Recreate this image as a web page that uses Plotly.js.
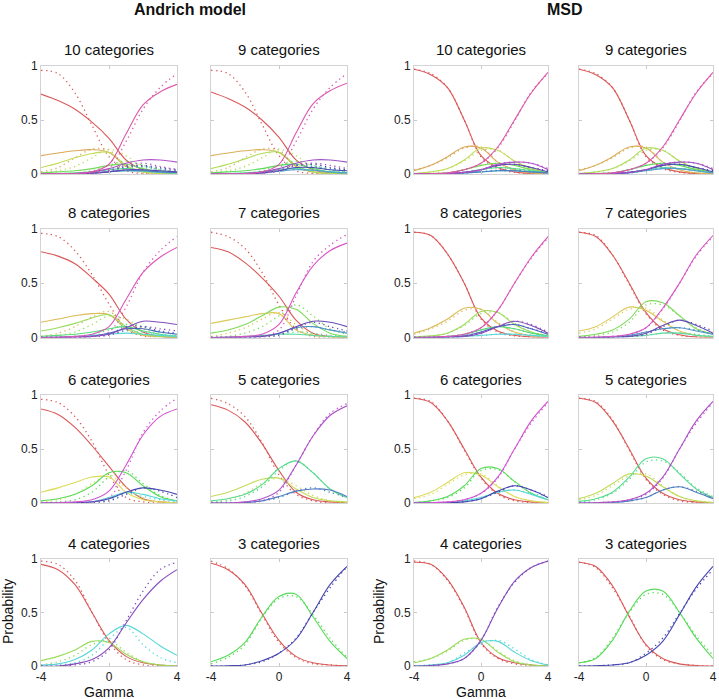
<!DOCTYPE html>
<html>
<head>
<meta charset="utf-8">
<script src="https://cdn.plot.ly/plotly-3.0.1.min.js"></script>
<style>html,body{margin:0;padding:0;background:#fff;}#chart{width:719px;height:699px;}</style>
</head>
<body>
<div id="chart"></div>
<script>
// Gamma grid on which curve values were read
const xs = [-4,-3,-2,-1,0,1,2,3,4];

// ---- Andrich model: fitted (solid) and observed (dotted) category probabilities ----
const A10_fit = [
 [.74,.68,.6,.48,.33,.13,.04,.01,.005],
 [.17,.195,.215,.225,.2,.07,.02,.005,0],
 [.06,.1,.15,.19,.2,.08,.02,.005,0],
 [.01,.02,.03,.05,.08,.09,.05,.02,.01],
 [0,.005,.01,.02,.04,.05,.035,.02,.01],
 [0,0,.005,.01,.025,.03,.025,.015,.01],
 [0,0,.003,.008,.02,.03,.03,.02,.015],
 [0,0,.003,.008,.02,.04,.04,.03,.02],
 [0,0,.005,.02,.05,.1,.13,.13,.11],
 [0,.002,.005,.02,.09,.37,.64,.76,.83]];
const A10_obs = [
 [.96,.93,.75,.45,.16,.03,.005,0,0],
 [.02,.06,.15,.23,.22,.07,.01,0,0],
 [.01,.03,.07,.15,.23,.17,.06,.01,0],
 [0,.005,.01,.03,.08,.12,.08,.04,.02],
 [0,0,.005,.02,.05,.08,.07,.04,.02],
 [0,0,.003,.01,.04,.07,.06,.04,.02],
 [0,0,.003,.01,.03,.06,.07,.05,.03],
 [0,0,.002,.01,.03,.07,.08,.06,.04],
 [0,0,.002,.01,.03,.08,.1,.07,.04],
 [0,0,.002,.005,.05,.3,.6,.8,.93]];
const A9_fit = [
 [.76,.7,.62,.5,.34,.13,.04,.01,.005],
 [.17,.195,.215,.225,.2,.07,.02,.005,0],
 [.05,.09,.14,.19,.2,.08,.02,.005,0],
 [.01,.02,.03,.05,.08,.09,.05,.02,.01],
 [0,.005,.01,.02,.04,.05,.035,.02,.01],
 [0,0,.005,.01,.025,.04,.035,.02,.01],
 [0,0,.003,.01,.03,.06,.06,.04,.03],
 [0,0,.005,.02,.05,.1,.13,.13,.11],
 [0,.002,.005,.02,.09,.38,.65,.77,.84]];
const A9_obs = [
 [.96,.93,.76,.46,.17,.03,.005,0,0],
 [.02,.06,.15,.23,.22,.07,.01,0,0],
 [.01,.03,.07,.15,.23,.17,.06,.01,0],
 [0,.005,.01,.03,.08,.12,.08,.04,.02],
 [0,0,.005,.02,.05,.09,.07,.04,.02],
 [0,0,.003,.01,.04,.08,.07,.05,.03],
 [0,0,.002,.01,.03,.08,.09,.06,.04],
 [0,0,.002,.01,.03,.08,.1,.08,.05],
 [0,0,.002,.005,.05,.3,.6,.8,.93]];
const A8_fit = [
 [.79,.75,.68,.55,.4,.17,.05,.01,0],
 [.14,.17,.2,.22,.21,.08,.02,.01,0],
 [.06,.09,.13,.18,.21,.1,.03,.01,0],
 [.01,.02,.03,.05,.08,.1,.06,.03,.01],
 [0,.005,.01,.02,.03,.04,.03,.02,.01],
 [0,0,.005,.01,.04,.08,.08,.05,.03],
 [0,0,.003,.01,.03,.09,.15,.14,.12],
 [0,.003,.01,.03,.1,.35,.6,.74,.83]];
const A8_obs = [
 [.96,.93,.8,.58,.31,.08,.015,.005,0],
 [.01,.04,.1,.19,.24,.1,.02,.005,0],
 [0,.02,.05,.12,.2,.17,.08,.03,.01],
 [0,.005,.01,.03,.07,.12,.1,.05,.03],
 [0,0,.005,.01,.03,.06,.05,.03,.02],
 [0,0,.003,.01,.03,.1,.1,.06,.04],
 [0,0,.002,.01,.02,.07,.1,.08,.06],
 [0,0,.003,.01,.05,.28,.6,.8,.93]];
const A7_fit = [
 [.83,.79,.69,.55,.38,.16,.04,.01,0],
 [.13,.16,.19,.22,.22,.07,.02,.005,0],
 [.04,.07,.12,.2,.28,.26,.13,.04,.01],
 [0,.005,.01,.02,.03,.03,.02,.01,.005],
 [0,0,.005,.01,.04,.09,.1,.07,.04],
 [0,0,.003,.01,.04,.1,.15,.14,.1],
 [0,.003,.01,.03,.12,.41,.66,.8,.87]];
const A7_obs = [
 [.97,.93,.82,.6,.3,.08,.01,0,0],
 [.01,.04,.09,.17,.23,.12,.03,.005,0],
 [0,.01,.04,.1,.2,.3,.2,.08,.03],
 [0,0,.005,.01,.03,.05,.04,.02,.01],
 [0,0,.003,.01,.03,.08,.1,.07,.05],
 [0,0,.002,.005,.02,.09,.14,.1,.06],
 [0,0,.003,.01,.07,.38,.7,.85,.95]];
const A6_fit = [
 [.87,.82,.7,.53,.34,.15,.04,.01,0],
 [.1,.14,.19,.24,.24,.1,.03,.01,0],
 [.02,.04,.08,.16,.28,.28,.16,.06,.02],
 [0,0,.005,.01,.05,.1,.08,.04,.02],
 [0,0,.003,.01,.04,.1,.14,.12,.08],
 [0,.003,.01,.03,.11,.35,.63,.8,.87]];
const A6_obs = [
 [.96,.93,.8,.57,.26,.05,.01,0,0],
 [.01,.03,.08,.18,.26,.14,.05,.01,0],
 [0,.01,.03,.1,.24,.3,.18,.07,.02],
 [0,0,.003,.01,.03,.09,.06,.03,.01],
 [0,0,.002,.005,.02,.08,.14,.11,.05],
 [0,0,.003,.01,.05,.3,.65,.85,.97]];
const A5_fit = [
 [.91,.86,.75,.55,.3,.1,.03,.01,0],
 [.06,.1,.16,.22,.23,.13,.05,.02,.01],
 [.02,.04,.08,.17,.32,.39,.28,.13,.05],
 [0,0,.005,.02,.06,.11,.13,.12,.06],
 [0,0,.01,.04,.12,.35,.62,.81,.9]];
const A5_obs = [
 [.97,.92,.8,.56,.26,.08,.02,0,0],
 [.01,.03,.09,.18,.23,.16,.07,.02,.005],
 [.01,.02,.06,.15,.3,.39,.28,.13,.05],
 [0,0,.005,.02,.05,.11,.14,.1,.05],
 [0,0,.005,.02,.1,.35,.62,.83,.92]];
const A4_fit = [
 [.95,.9,.76,.5,.24,.09,.03,.01,0],
 [.05,.09,.15,.23,.22,.11,.04,.01,0],
 [.01,.02,.06,.15,.3,.38,.3,.19,.1],
 [0,0,.02,.06,.17,.4,.62,.79,.9]];
const A4_obs = [
 [.98,.95,.8,.5,.22,.06,.01,0,0],
 [.01,.04,.1,.2,.24,.13,.04,.01,0],
 [0,.01,.03,.1,.25,.36,.2,.08,.03],
 [0,0,.01,.04,.15,.42,.7,.9,.97]];
const A3_fit = [
 [.96,.9,.76,.49,.24,.09,.03,.01,.003],
 [.04,.1,.22,.46,.65,.67,.46,.23,.07],
 [0,.003,.01,.05,.12,.25,.5,.76,.93]];
const A3_obs = [
 [.98,.91,.75,.48,.22,.08,.02,.01,0],
 [.02,.08,.2,.45,.63,.65,.48,.26,.08],
 [0,0,.01,.04,.12,.26,.5,.73,.93]];

// ---- MSD model ----
const M10_fit = [
 [.97,.92,.8,.5,.17,.06,.02,.005,0],
 [.03,.08,.16,.25,.24,.11,.04,.01,0],
 [.005,.02,.05,.13,.24,.22,.12,.05,.015],
 [0,.005,.01,.04,.08,.1,.08,.04,.015],
 [0,0,.005,.015,.04,.06,.05,.03,.01],
 [0,0,.003,.01,.02,.03,.03,.02,.01],
 [0,0,.003,.01,.02,.03,.03,.02,.01],
 [0,0,.005,.015,.04,.08,.09,.06,.02],
 [0,0,.005,.015,.04,.09,.11,.1,.04],
 [0,.003,.01,.04,.1,.25,.5,.75,.94]];
const M10_obs = [
 [.97,.93,.8,.5,.16,.05,.015,.005,0],
 [.04,.08,.15,.24,.25,.11,.03,.01,0],
 [.005,.02,.05,.12,.22,.22,.12,.05,.02],
 [0,.005,.01,.04,.08,.1,.08,.04,.02],
 [0,0,.005,.015,.04,.06,.05,.03,.015],
 [0,0,.003,.01,.02,.03,.03,.02,.01],
 [0,0,.003,.01,.02,.035,.035,.02,.01],
 [0,0,.005,.015,.04,.08,.09,.06,.03],
 [0,0,.005,.015,.04,.09,.11,.1,.05],
 [0,.003,.01,.04,.1,.24,.49,.76,.93]];
const M9_fit = [
 [.97,.92,.8,.5,.17,.06,.02,.005,0],
 [.03,.08,.16,.25,.24,.11,.04,.01,0],
 [.005,.02,.05,.13,.24,.22,.12,.05,.015],
 [0,.005,.01,.04,.08,.1,.08,.04,.015],
 [0,0,.005,.015,.04,.06,.05,.03,.01],
 [0,0,.003,.01,.03,.05,.05,.03,.01],
 [0,0,.005,.015,.04,.08,.09,.06,.02],
 [0,0,.005,.015,.04,.09,.11,.1,.04],
 [0,.003,.01,.04,.1,.25,.5,.75,.94]];
const M9_obs = [
 [.97,.93,.8,.5,.16,.05,.015,.005,0],
 [.04,.08,.15,.24,.25,.11,.03,.01,0],
 [.005,.02,.05,.12,.22,.22,.12,.05,.02],
 [0,.005,.01,.04,.08,.1,.08,.04,.02],
 [0,0,.005,.015,.04,.06,.05,.03,.015],
 [0,0,.003,.01,.03,.05,.05,.03,.015],
 [0,0,.005,.015,.04,.08,.09,.06,.03],
 [0,0,.005,.015,.04,.09,.11,.1,.05],
 [0,.003,.01,.04,.1,.24,.49,.76,.93]];
const M8_fit = [
 [.97,.94,.77,.5,.18,.06,.02,.005,0],
 [.04,.09,.17,.27,.26,.13,.05,.015,.005],
 [.005,.015,.04,.12,.24,.23,.12,.05,.015],
 [0,.003,.01,.03,.07,.1,.08,.04,.015],
 [0,0,.003,.01,.02,.03,.03,.02,.01],
 [0,0,.005,.015,.05,.1,.12,.08,.03],
 [0,0,.003,.01,.04,.1,.15,.11,.04],
 [0,.003,.01,.03,.09,.25,.5,.74,.93]];
const M8_obs = [
 [.97,.94,.77,.5,.17,.05,.015,.005,0],
 [.03,.08,.15,.25,.26,.14,.05,.02,.005],
 [.005,.01,.04,.11,.22,.23,.13,.05,.02],
 [0,.003,.01,.03,.07,.1,.08,.04,.02],
 [0,0,.003,.01,.02,.03,.03,.02,.01],
 [0,0,.005,.015,.05,.1,.12,.08,.04],
 [0,0,.003,.01,.04,.1,.15,.12,.05],
 [0,.003,.01,.03,.09,.25,.5,.73,.92]];
const M7_fit = [
 [.97,.93,.76,.5,.23,.08,.025,.005,0],
 [.06,.1,.19,.28,.25,.15,.06,.02,.005],
 [.01,.03,.07,.17,.33,.32,.2,.08,.03],
 [0,0,.005,.01,.02,.04,.04,.02,.01],
 [0,0,.005,.02,.05,.08,.09,.06,.03],
 [0,0,.003,.01,.04,.11,.16,.11,.04],
 [0,.003,.01,.03,.09,.27,.5,.76,.94]];
const M7_obs = [
 [.97,.94,.76,.49,.22,.07,.02,.005,0],
 [.04,.08,.17,.26,.27,.16,.06,.02,.005],
 [.005,.02,.05,.14,.3,.3,.2,.09,.03],
 [0,0,.005,.01,.02,.04,.04,.03,.01],
 [0,0,.005,.02,.05,.08,.09,.07,.03],
 [0,0,.003,.01,.03,.1,.16,.12,.06],
 [0,.003,.01,.03,.09,.26,.5,.75,.93]];
const M6_fit = [
 [.97,.93,.76,.5,.24,.09,.03,.01,0],
 [.05,.1,.19,.28,.26,.15,.06,.02,.005],
 [.005,.02,.06,.16,.32,.32,.2,.09,.03],
 [0,0,.005,.02,.05,.1,.12,.08,.03],
 [0,0,.003,.01,.04,.11,.16,.12,.05],
 [0,.003,.01,.03,.09,.24,.5,.76,.94]];
const M6_obs = [
 [.97,.94,.76,.49,.23,.08,.02,.005,0],
 [.04,.08,.17,.26,.27,.16,.06,.02,.005],
 [.005,.02,.05,.14,.3,.31,.2,.09,.03],
 [0,0,.005,.02,.05,.1,.12,.09,.05],
 [0,0,.003,.01,.04,.1,.16,.12,.06],
 [0,.003,.01,.03,.09,.23,.5,.74,.93]];
const M5_fit = [
 [.97,.93,.76,.5,.23,.09,.03,.01,0],
 [.04,.09,.18,.27,.25,.15,.06,.02,.005],
 [.015,.04,.1,.24,.41,.41,.27,.13,.05],
 [0,0,.005,.02,.05,.12,.15,.1,.04],
 [0,.003,.01,.03,.09,.24,.5,.76,.94]];
const M5_obs = [
 [.97,.94,.77,.49,.22,.08,.02,.005,0],
 [.03,.07,.16,.25,.27,.16,.06,.02,.005],
 [.01,.03,.09,.22,.38,.39,.28,.14,.06],
 [0,0,.005,.02,.05,.12,.15,.11,.05],
 [0,.003,.01,.03,.08,.23,.5,.74,.93]];
const M4_fit = [
 [.97,.95,.81,.55,.22,.08,.03,.01,0],
 [.03,.07,.15,.25,.25,.13,.04,.01,0],
 [0,.01,.03,.1,.22,.23,.13,.05,.01],
 [0,.005,.02,.07,.24,.54,.79,.92,.98]];
const M4_obs = [
 [.98,.95,.8,.54,.21,.07,.02,.005,0],
 [.04,.07,.14,.24,.25,.14,.05,.01,0],
 [0,.01,.03,.12,.2,.24,.16,.06,.01],
 [0,.005,.02,.07,.24,.55,.78,.92,.98]];
const M3_fit = [
 [.97,.93,.75,.46,.2,.07,.02,.005,0],
 [.03,.07,.24,.51,.7,.7,.5,.26,.07],
 [0,.003,.01,.03,.1,.23,.48,.74,.93]];
const M3_obs = [
 [.97,.92,.73,.47,.19,.06,.02,.005,0],
 [.03,.08,.26,.5,.67,.67,.5,.28,.1],
 [0,.003,.01,.03,.12,.26,.49,.72,.9]];

const panelTitles = ['10 categories','9 categories','10 categories','9 categories',
                     '8 categories','7 categories','8 categories','7 categories',
                     '6 categories','5 categories','6 categories','5 categories',
                     '4 categories','3 categories','4 categories','3 categories'];
const panelFit = [A10_fit,A9_fit,M10_fit,M9_fit,A8_fit,A7_fit,M8_fit,M7_fit,
                  A6_fit,A5_fit,M6_fit,M5_fit,A4_fit,A3_fit,M4_fit,M3_fit];
const panelObs = [A10_obs,A9_obs,M10_obs,M9_obs,A8_obs,A7_obs,M8_obs,M7_obs,
                  A6_obs,A5_obs,M6_obs,M5_obs,A4_obs,A3_obs,M4_obs,M3_obs];
const xTicks = [-4,0,4], xTickText = ['-4','0','4'];
const yTicks = [0,0.5,1], yTickText = ['0','0.5','1'];

// ---- layout geometry (pixels) ----
const W = 719, H = 699;
const colPx = [[41,177],[211,347],[414,548],[579,713]];
const rowPx = [[66,174],[229,337.5],[395,503],[559,666]];

// muted hsv-like category palette (red -> ... -> magenta)
function catColor(h) {
  const s = 0.6;
  const d = Math.abs(h - 0.68);
  const v = 0.86 - 0.18 * Math.max(0, 1 - d / 0.2);
  const i = Math.floor(h*6), f = h*6 - i;
  const p = v*(1-s), q = v*(1-f*s), t = v*(1-(1-f)*s);
  let r,g,b;
  switch (i % 6) {
    case 0: r=v;g=t;b=p;break; case 1: r=q;g=v;b=p;break;
    case 2: r=p;g=v;b=t;break; case 3: r=p;g=q;b=v;break;
    case 4: r=t;g=p;b=v;break; default: r=v;g=p;b=q;
  }
  return 'rgb(' + Math.round(r*255) + ',' + Math.round(g*255) + ',' + Math.round(b*255) + ')';
}

const FONT = 'Liberation Sans, Arial, Helvetica, sans-serif';
const traces = [];
const layout = {
  width: W, height: H, margin: {l:0, r:0, t:0, b:0},
  paper_bgcolor: '#fff', plot_bgcolor: '#fff', showlegend: false,
  font: {family: FONT, color: '#222', size: 12},
  annotations: []
};

for (let p = 0; p < 16; p++) {
  const r = Math.floor(p/4), c = p % 4;
  const sfx = p === 0 ? '' : String(p+1);
  const fit = panelFit[p], obs = panelObs[p], n = fit.length;
  for (let k = 0; k < n; k++) {
    const col = catColor(k/n);
    traces.push({x: xs, y: obs[k], type: 'scatter', mode: 'lines', xaxis: 'x'+sfx, yaxis: 'y'+sfx,
      line: {color: col, width: 1.3, dash: '1.3px,3.5px', shape: 'spline'}, hoverinfo: 'skip'});
    traces.push({x: xs, y: fit[k], type: 'scatter', mode: 'lines', xaxis: 'x'+sfx, yaxis: 'y'+sfx,
      line: {color: col, width: 1.1, shape: 'spline'}, hoverinfo: 'skip'});
  }
  const common = {showgrid: false, zeroline: false, showline: true, mirror: 'ticks',
    linecolor: '#d3d3d3', linewidth: 1, ticks: 'inside', ticklen: 3, tickcolor: '#c8c8c8',
    tickfont: {size: 12, color: '#222', family: FONT}, fixedrange: true};
  layout['xaxis'+sfx] = Object.assign({}, common, {
    domain: [colPx[c][0]/W, colPx[c][1]/W], range: [-4, 4], anchor: 'y'+sfx,
    tickvals: xTicks, ticktext: xTickText, showticklabels: r === 3});
  layout['yaxis'+sfx] = Object.assign({}, common, {
    domain: [1 - rowPx[r][1]/H, 1 - rowPx[r][0]/H], range: [0, 1], anchor: 'x'+sfx,
    tickvals: yTicks, ticktext: yTickText, showticklabels: (c === 0 || c === 2)});
  layout.annotations.push({text: panelTitles[p], xref: 'paper', yref: 'paper',
    x: (colPx[c][0]+colPx[c][1])/2/W, y: 1 - (rowPx[r][0]-16)/H,
    xanchor: 'center', yanchor: 'middle', showarrow: false,
    font: {size: 15, color: '#111', family: FONT}});
}

const extra = [
  {text: '<b>Andrich model</b>', x: 190, y: 9, size: 16},
  {text: '<b>MSD</b>', x: 565, y: 9, size: 16},
  {text: 'Gamma', x: 109, y: 692, size: 14},
  {text: 'Gamma', x: 481, y: 692, size: 14},
  {text: 'Probability', x: 8, y: 612, size: 14, rot: -90},
  {text: 'Probability', x: 379, y: 612, size: 14, rot: -90}
];
extra.forEach(e => layout.annotations.push({text: e.text, xref: 'paper', yref: 'paper',
  x: e.x/W, y: 1 - e.y/H, xanchor: 'center', yanchor: 'middle', showarrow: false,
  textangle: e.rot || 0, font: {size: e.size, color: '#111', family: FONT}}));

Plotly.newPlot('chart', traces, layout, {staticPlot: true, displayModeBar: false});
</script>
</body>
</html>
